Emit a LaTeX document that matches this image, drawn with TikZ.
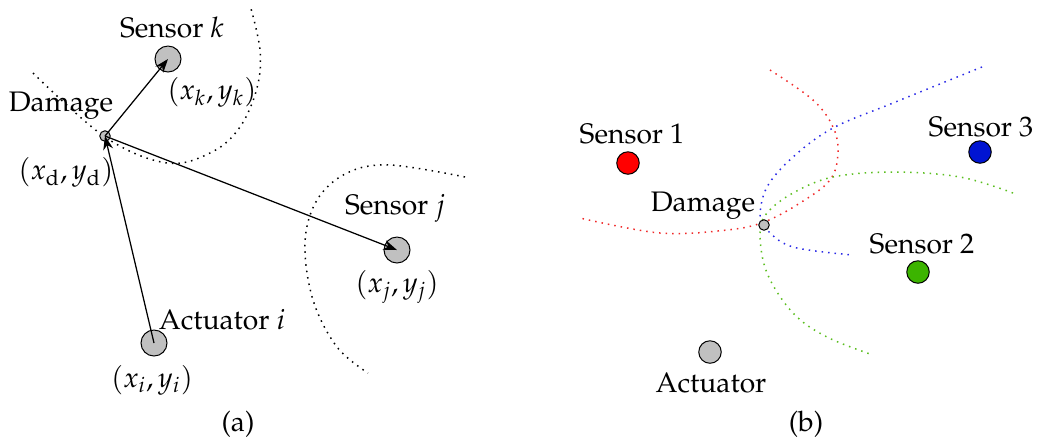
\documentclass[tikz,border=0pt]{standalone}
\usepackage[T1]{fontenc}
\usepackage{mathpazo}
\usetikzlibrary{arrows.meta}
\definecolor{sgray}{RGB}{192,192,192}
\definecolor{sred}{RGB}{255,0,0}
\definecolor{sblue}{RGB}{0,20,210}
\definecolor{sgreen}{RGB}{60,180,0}
\definecolor{cred}{RGB}{240,40,40}
\definecolor{cblue}{RGB}{40,40,230}
\definecolor{cgreen}{RGB}{90,190,30}
\tikzset{
  dev/.style={circle,draw=black,line width=0.4pt,fill=sgray,inner sep=0pt,minimum size=10.4pt},
  dmg/.style={circle,draw=black,line width=0.4pt,fill=sgray,inner sep=0pt,minimum size=4.2pt},
  lbl/.style={inner sep=0pt,font=\fontsize{11.3}{13.6}\selectfont},
  ray/.style={line width=0.5pt,-{Stealth[length=5.5pt,width=4pt]},shorten >=0pt},
  locus/.style={dotted,line width=0.6pt},
}
\begin{document}
\begin{tikzpicture}[x=0.4pt,y=-0.4pt]
\useasboundingbox (0,0) rectangle (1040,443);
% ---------- (a) ----------
\draw[locus] plot[smooth,tension=0.6] coordinates {(33,73) (105,137) (167,163) (212,152) (240,127) (257,88) (260,50) (250,5)};
\draw[locus] plot[smooth,tension=0.6] coordinates {(465,177) (390,165) (347,173) (317,200) (305,243) (313,300) (337,347) (368,373)};
\node[dev] (sk) at (168,59) {};
\node[dev] (sj) at (397,250) {};
\node[dev] (ai) at (154,343) {};
\node[dmg] (da) at (105,136) {};
\draw[ray] (ai.center) -- (da.center);
\draw[ray] (da.center) -- (sk.center);
\draw[ray] (da.center) -- (sj.center);
\node[lbl] (tsk) at (172,28) {Sensor $k$};
\node[lbl] (csk) at (212,92) {$(x_k, y_k)$};
\node[lbl] (tda) at (61,106) {Damage};
\node[lbl] (cda) at (66,172) {$(x_\mathrm{d}, y_\mathrm{d})$};
\node[lbl] (tsj) at (395,208) {Sensor $j$};
\node[lbl] (csj) at (397,287) {$(x_j, y_j)$};
\node[lbl] (tai) at (222,320) {Actuator $i$};
\node[lbl] (cai) at (152,380) {$(x_i, y_i)$};
\node[lbl] (capa) at (238,424) {(a)};
% ---------- (b) ----------
\draw[locus,cred] plot[smooth,tension=0.6] coordinates {(770,70) (813,100) (833,127) (838,153) (830,180) (800,203) (764,222) (727,230) (660,233) (580,218)};
\draw[locus,cblue] plot[smooth,tension=0.6] coordinates {(982,67) (893,103) (833,128) (793,157) (767,187) (760,217) (767,230) (793,247) (853,255)};
\draw[locus,cgreen] plot[smooth,tension=0.6] coordinates {(1013,193) (960,177) (893,172) (833,177) (793,193) (767,213) (760,233) (767,273) (793,313) (827,337) (873,355)};
\node[dev,fill=sred,minimum size=9pt] (s1) at (628,163) {};
\node[dev,fill=sblue,minimum size=9pt] (s3) at (980,152) {};
\node[dev,fill=sgreen,minimum size=9pt] (s2) at (918,272) {};
\node[dev,minimum size=9pt] (ab) at (710,352) {};
\node[dmg] (db) at (764,225) {};
\node[lbl] (ts1) at (632,134) {Sensor 1};
\node[lbl] (ts3) at (981,127) {Sensor 3};
\node[lbl] (ts2) at (922,244) {Sensor 2};
\node[lbl] (tdb) at (703,206) {Damage};
\node[lbl] (tab) at (711,383) {Actuator};
\node[lbl] (capb) at (806,424) {(b)};
\end{tikzpicture}
\end{document}
